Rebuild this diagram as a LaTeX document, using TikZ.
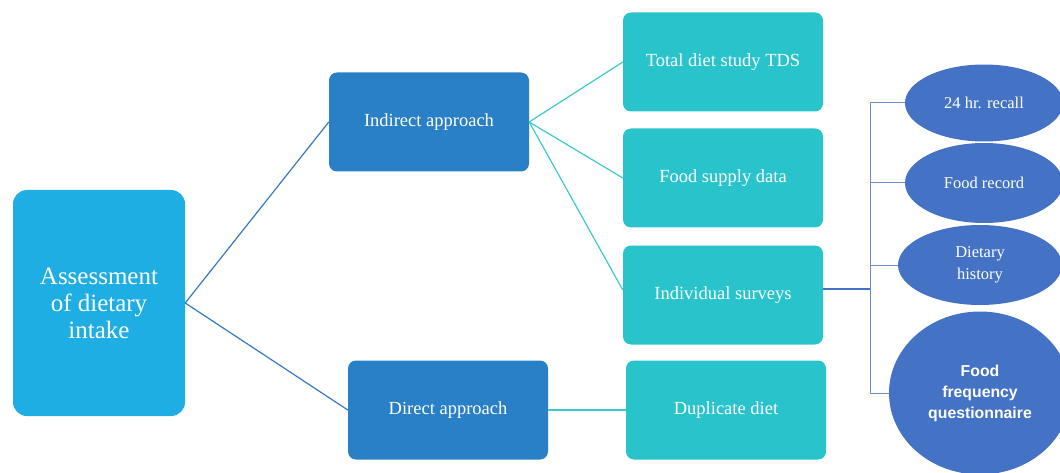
\documentclass[tikz,border=0pt]{standalone}
\usepackage{fontspec}
\setmainfont{Liberation Serif}
\setsansfont{Liberation Sans}
\usetikzlibrary{shapes.geometric}
\definecolor{rootblue}{RGB}{30,174,227}
\definecolor{midblue}{RGB}{42,128,198}
\definecolor{tealbox}{RGB}{41,196,203}
\definecolor{ellblue}{RGB}{68,114,196}
\definecolor{rootline}{RGB}{52,120,190}
\definecolor{tealline}{RGB}{60,200,210}

\begin{document}
\begin{tikzpicture}[x=1pt,y=-1pt,
    box/.style={rounded corners=8pt, minimum width=200pt, minimum height=99pt, text=white, align=center, inner sep=0pt, font=\fontsize{18.5}{21}\selectfont},
    rootbox/.style={box, fill=rootblue, rounded corners=14pt, minimum width=172pt, minimum height=226pt, font=\fontsize{25}{27}\selectfont},
    approach/.style={box, fill=midblue},
    method/.style={box, fill=tealbox},
    survey/.style={ellipse, fill=ellblue, text=white, align=center, inner sep=0pt, font=\fontsize{16.5}{21.5}\selectfont},
    rootlink/.style={rootline, line width=1.2pt},
    teallink/.style={tealline, line width=1.2pt},
    surveylink/.style={ellblue!80, line width=1pt}]
    \useasboundingbox (0,0) rectangle (1060,473);
    \clip (0,0) rectangle (1060,473);

    % left part
    \node[rootbox] (assess) at (99,303) {Assessment\\of dietary\\intake};
    \node[approach] (indirect) at (429,122) {Indirect approach};
    \node[approach] (direct) at (448,410) {Direct approach};

    \draw[rootlink] (assess.east) -- (indirect.west);
    \draw[rootlink] (assess.east) -- (direct.west);

    % methods
    \node[method] (tds) at (723,62) {Total diet study TDS};
    \node[method] (supply) at (723,178) {Food supply data};
    \node[method] (individual) at (723,295) {Individual surveys};
    \node[method] (duplicate) at (726,410) {Duplicate diet};

    \draw[teallink] (indirect.east) -- (tds.west);
    \draw[teallink] (indirect.east) -- (supply.west);
    \draw[teallink] (indirect.east) -- ([yshift=5pt]individual.west);
    \draw[teallink] (direct.east) -- (duplicate.west);

    % individual surveys
    \node[survey, minimum width=158pt, minimum height=77pt] (recall) at (984,103) {24 hr. recall};
    \node[survey, minimum width=158pt, minimum height=80pt] (record) at (984,183) {Food record};
    \node[survey, minimum width=164pt, minimum height=80pt] (history) at (980,265) {Dietary\\history};
    \node[survey, minimum width=182pt, minimum height=163pt, font=\sffamily\bfseries\fontsize{15.8}{21}\selectfont] (ffq) at (980,393) {Food\\frequency\\questionnaire};

    \coordinate (fork) at (870,289);
    \draw[ellblue, line width=1.6pt] ([yshift=6pt]individual.east) -- (fork);
    \draw[surveylink] (fork) |- (recall.west);
    \draw[surveylink] (fork) |- (record.west);
    \draw[surveylink] (fork) |- (history.west);
    \draw[surveylink] (fork) |- (ffq.west);
\end{tikzpicture}
\end{document}
